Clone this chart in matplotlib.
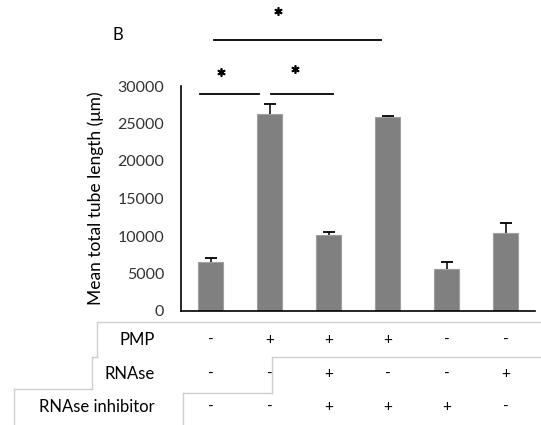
import matplotlib.pyplot as plt
from matplotlib.lines import Line2D
from matplotlib.transforms import blended_transform_factory

plt.rcParams['font.family'] = ['Lato', 'DejaVu Sans']

# Data
groups = [0, 1, 2, 3, 4, 5]
means = [6500, 26200, 10200, 25850, 5600, 10450]
errors = [520, 1350, 330, 180, 930, 1300]
pmp = ['-', '+', '+', '+', '-', '-']
rnase = ['-', '-', '+', '-', '-', '+']
inhib = ['-', '-', '+', '+', '+', '-']
row_names = ['PMP', 'RNAse', 'RNAse inhibitor']
yticks = [0, 5000, 10000, 15000, 20000, 25000, 30000]

W, H = 541, 425
def fx(px): return px / W
def fy(py): return 1 - py / H

fig = plt.figure(figsize=(5.41, 4.25), dpi=100)
ax = fig.add_axes([fx(181), fy(311), (535 - 181) / W, (311 - 86) / H])

ax.bar(groups, means, width=0.41, color='#808080', edgecolor='#a0a0a0', linewidth=0.8)
# only the upper half of the error bars
tops = [m + e for m, e in zip(means, errors)]
ax.vlines(groups, means, tops, color='black', lw=1.1)
ax.plot(groups, tops, ls='none', marker='_', ms=8, mew=1.3, color='black')

ax.set_xlim(-0.5, 5.5)
ax.set_ylim(0, 30000)
ax.set_yticks(yticks)
ax.set_xticks([])
ax.tick_params(axis='y', length=0, pad=12, labelsize=11.5, colors='#333333')
ax.spines['top'].set_visible(False)
ax.spines['right'].set_visible(False)
ax.spines['left'].set_linewidth(1.2)
ax.spines['bottom'].set_linewidth(1.2)
ax.set_ylabel('Mean total tube length (μm)', fontsize=12.5, labelpad=10)

# significance bars + stars
for x0, x1, y in [(-0.18, 0.83, 28900), (1.03, 2.08, 28900), (0.06, 2.89, 36100)]:
    ax.plot([x0, x1], [y, y], color='black', lw=1.3, clip_on=False)
for xs, ys in [(0.18, 31830), (1.44, 32270), (1.15, 40040)]:
    ax.plot(xs, ys, marker=(6, 2, 0), ms=6, mew=1.2, color='black', clip_on=False)

fig.text(fx(112), fy(35), 'B', fontsize=12, va='center')

# table under the chart
tr = blended_transform_factory(ax.transData, fig.transFigure)
for row, y, name in [(pmp, 340, row_names[0]), (rnase, 374, row_names[1]), (inhib, 407, row_names[2])]:
    fig.text(fx(155), fy(y), name, ha='right', va='center', fontsize=12)
    for g, s in zip(groups, row):
        ax.text(g, fy(y), s, transform=tr, ha='center', va='center', fontsize=11)

grey = '#cfcfcf'
segs = [((97, 322), (541, 322)), ((97, 322), (97, 357)), ((92, 357), (97, 357)),
        ((92, 357), (92, 389)), ((14, 389), (92, 389)), ((14, 389), (14, 425)),
        ((183, 393), (272, 393)), ((272, 357), (272, 393)), ((272, 357), (541, 357)),
        ((183, 393), (183, 425))]
for (xa, ya), (xb, yb) in segs:
    fig.add_artist(Line2D([fx(xa), fx(xb)], [fy(ya), fy(yb)], color=grey, lw=1))

plt.savefig('out.png', dpi=100)
